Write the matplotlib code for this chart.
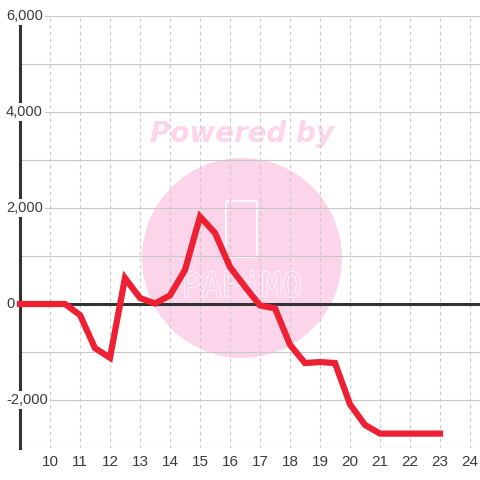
import matplotlib.pyplot as plt
import matplotlib.transforms as mtransforms
import matplotlib.patheffects as pe
from matplotlib.patches import Circle, FancyBboxPatch

# half-hour steps from 9:00 to 23:00
hours = [9 + 0.5 * i for i in range(29)]
values = [0, 0, 0, 0, -230, -920, -1120, 540, 125, 10, 180, 710, 1820, 1480,
          770, 360, -30, -90, -850, -1230, -1210, -1230, -2090, -2520, -2700,
          -2700, -2700, -2700, -2700]
xticks = list(range(10, 25))
yticks = [-2000, 0, 2000, 4000, 6000]

plt.rcParams['font.family'] = ['Liberation Sans', 'DejaVu Sans']

fig = plt.figure(figsize=(4.8, 4.8), dpi=100)
fig.patch.set_facecolor('white')
ax = fig.add_axes([20 / 480, 32 / 480, 460 / 480, 432 / 480])
ax.set_xlim(9, 24.333)
ax.set_ylim(-3000, 6000)

# watermark, under the grid
pink = '#fcd5ea'
ax.add_patch(Circle((242 / 480, (480 - 258) / 480), 100 / 480,
                    transform=fig.transFigure, facecolor=pink,
                    edgecolor='none', zorder=0.1))
ax.text(242 / 480, (480 - 134) / 480, 'Powered by', color=pink, fontsize=20,
        fontweight='bold', style='italic', ha='center', va='center',
        zorder=0.1, family='DejaVu Sans', transform=fig.transFigure)
ax.add_patch(FancyBboxPatch((226 / 480, (480 - 257) / 480), 31 / 480, 56 / 480,
                            boxstyle='round,pad=0,rounding_size=0.004',
                            transform=fig.transFigure, facecolor='none',
                            edgecolor='white', lw=1.2, zorder=0.2))
ax.text(242 / 480, (480 - 287) / 480, 'PAPiMO', color=pink, fontsize=24,
        ha='center', va='center', zorder=0.2, family='DejaVu Sans Mono',
        transform=fig.transFigure,
        path_effects=[pe.withStroke(linewidth=1.2, foreground='white'),
                      pe.Normal()])

for s in ['top', 'right', 'bottom']:
    ax.spines[s].set_visible(False)
ax.spines['left'].set_color('#333333')
ax.spines['left'].set_linewidth(2.2)
ax.spines['left'].set_bounds(-3000, 5830)

for y in range(-3000, 7000, 1000):
    ax.axhline(y, color='#c8c8c8', lw=0.8, zorder=1)
for x in xticks:
    ax.axvline(x, color='#c8c8c8', lw=0.8, ls=(0, (3, 3)), zorder=1)
ax.axhline(0, color='#333333', lw=2.2, zorder=2)

ax.plot(hours, values, color='#ee2033', lw=4.5, solid_joinstyle='miter',
        solid_capstyle='projecting', zorder=3, clip_on=False)

ax.set_xticks(xticks)
ax.set_xticklabels([str(x) for x in xticks])
ax.tick_params(axis='x', length=0, pad=5, labelsize=11, labelcolor='#3a3a3a')
ax.set_yticks([])

trans = mtransforms.blended_transform_factory(fig.transFigure, ax.transData)
for y in yticks:
    ax.text(6 / 480, y, f'{y:,}', transform=trans, ha='left', va='center',
            fontsize=10.5, color='#3a3a3a', zorder=5, clip_on=False,
            bbox=dict(boxstyle='square,pad=0.12', facecolor='white',
                      edgecolor='none'))

fig.savefig('out.png', dpi=100)
